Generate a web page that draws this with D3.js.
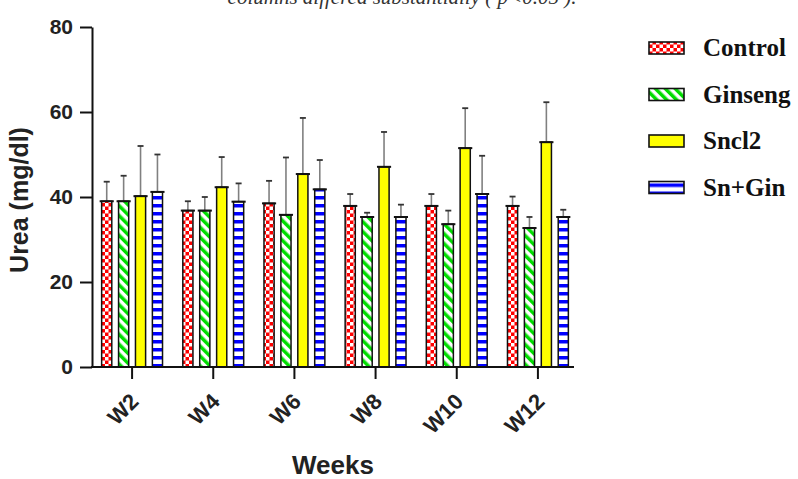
<!DOCTYPE html>
<meta charset="utf-8">
<style>
body { margin: 0; background: #fff; }
svg { font-family: "Liberation Sans", Arial, sans-serif; }
.axis path, .axis line { stroke: #111; stroke-width: 2px; }
.axis text { font-size: 21px; font-weight: bold; fill: #222; }
.legend text { font-family: "Liberation Serif", "Times New Roman", serif; font-weight: bold; font-size: 25px; fill: #111; }
</style>
<body>
<svg width="798" height="479"></svg>
</body>
<script src="https://cdn.jsdelivr.net/npm/d3@7"></script>
<script>

// data
var weeks = ["W2", "W4", "W6", "W8", "W10", "W12"];
var groups = ["Control", "Ginseng", "Sncl2", "Sn+Gin"];

var control = [39.0, 36.8, 38.5, 37.9, 37.9, 37.9];
var ginseng = [39.0, 36.8, 35.8, 35.3, 33.6, 32.7];
var sncl2   = [40.2, 42.3, 45.4, 47.1, 51.5, 52.9];
var snGin   = [41.2, 38.9, 41.8, 35.3, 40.7, 35.3];

// upper error bar ends
var controlErr = [43.6, 39.0, 43.8, 40.7, 40.7, 40.1];
var ginsengErr = [45.0, 40.0, 49.3, 36.3, 36.8, 35.3];
var sncl2Err   = [52.0, 49.4, 58.6, 55.3, 60.9, 62.3];
var snGinErr   = [50.0, 43.2, 48.7, 38.2, 49.7, 37.0];

var yTicks = [0, 20, 40, 60, 80];

var svg = d3.select("svg");

var series = [control, ginseng, sncl2, snGin];
var errs = [controlErr, ginsengErr, sncl2Err, snGinErr];

var rows = [];
weeks.forEach(function(w, i) {
  groups.forEach(function(g, j) {
    rows.push({week: w, group: g, value: series[j][i], err: errs[j][i]});
  });
});

var x0 = d3.scaleBand().domain(weeks).range([91.5, 578.5]).padding(0);
var x1 = d3.scaleBand().domain(groups).range([0, x0.bandwidth()])
    .paddingInner(0.4).paddingOuter(0.6);
var y = d3.scaleLinear().domain([0, 80]).range([367, 27]);

// patterns
var defs = svg.append("defs");

var pc = defs.append("pattern").attr("id", "pControl")
    .attr("patternUnits", "userSpaceOnUse").attr("width", 7).attr("height", 7);
pc.append("rect").attr("width", 7).attr("height", 7).attr("fill", "#ff0000");
pc.append("rect").attr("x", 0).attr("y", 0).attr("width", 3.5).attr("height", 3.5).attr("fill", "#fff");
pc.append("rect").attr("x", 3.5).attr("y", 3.5).attr("width", 3.5).attr("height", 3.5).attr("fill", "#fff");

var pg = defs.append("pattern").attr("id", "pGinseng")
    .attr("patternUnits", "userSpaceOnUse").attr("width", 7).attr("height", 7)
    .attr("patternTransform", "rotate(-45)");
pg.append("rect").attr("width", 7).attr("height", 7).attr("fill", "#fff");
pg.append("rect").attr("width", 3.5).attr("height", 7).attr("fill", "#00dd00");

var ps = defs.append("pattern").attr("id", "pSngin")
    .attr("patternUnits", "userSpaceOnUse").attr("width", 8).attr("height", 8);
ps.append("rect").attr("width", 8).attr("height", 8).attr("fill", "#fff");
ps.append("rect").attr("y", 4).attr("width", 8).attr("height", 3.5).attr("fill", "#0000ff");

var fills = {
  "Control": "url(#pControl)",
  "Ginseng": "url(#pGinseng)",
  "Sncl2": "#ffff00",
  "Sn+Gin": "url(#pSngin)"
};

// top caption, cut off by the page edge as in the source
svg.append("text")
    .attr("x", 402).attr("y", 4)
    .attr("text-anchor", "middle")
    .style("font-family", "'Liberation Serif', serif")
    .style("font-style", "italic")
    .style("font-size", "21px")
    .attr("fill", "#333")
    .text("columns differed substantially ( p<0.05 ).");

// error bars (drawn first, bars cover the lower part)
var eb = svg.append("g").selectAll("g")
  .data(rows).enter().append("g")
    .attr("transform", function(d) {
      return "translate(" + (x0(d.week) + x1(d.group) + x1.bandwidth() / 2) + ",0)";
    });

eb.append("line")
    .attr("y1", function(d) { return y(d.value); })
    .attr("y2", function(d) { return y(d.err); })
    .attr("stroke", "#808080").attr("stroke-width", 1.6);

eb.append("line")
    .attr("x1", -3).attr("x2", 3)
    .attr("y1", function(d) { return y(d.err); })
    .attr("y2", function(d) { return y(d.err); })
    .attr("stroke", "#333").attr("stroke-width", 1.8);

// bars
var bars = svg.append("g").selectAll("g")
  .data(rows).enter().append("g");

bars.append("rect")
    .attr("x", function(d) { return x0(d.week) + x1(d.group); })
    .attr("y", function(d) { return y(d.value); })
    .attr("width", x1.bandwidth())
    .attr("height", function(d) { return y(0) - y(d.value); })
    .attr("fill", function(d) { return fills[d.group]; })
    .attr("stroke", "#111").attr("stroke-width", 1.5);

bars.append("line")
    .attr("x1", function(d) { return x0(d.week) + x1(d.group) - 2; })
    .attr("x2", function(d) { return x0(d.week) + x1(d.group) + x1.bandwidth() + 2; })
    .attr("y1", function(d) { return y(d.value); })
    .attr("y2", function(d) { return y(d.value); })
    .attr("stroke", "#111").attr("stroke-width", 2);

// y axis
svg.append("g").attr("class", "axis")
    .attr("transform", "translate(92,0)")
    .call(d3.axisLeft(y).tickValues(yTicks).tickSize(12).tickPadding(7).tickSizeOuter(0));

// x axis
var xAxis = svg.append("g").attr("class", "axis")
    .attr("transform", "translate(0,367)")
    .call(d3.axisBottom(x0).tickSize(12).tickSizeOuter(0));
xAxis.select(".domain").attr("d", "M91,0H574");
xAxis.selectAll("text")
    .style("font-size", "22px")
    .attr("text-anchor", "end")
    .attr("transform", "translate(-3,25) rotate(-45)")
    .attr("dy", "0.7em")
    .attr("y", 0);

// axis titles
svg.append("text")
    .attr("transform", "translate(28,200) rotate(-90)")
    .attr("text-anchor", "middle")
    .style("font-size", "25px").style("font-weight", "bold")
    .attr("fill", "#222")
    .text("Urea (mg/dl)");

svg.append("text")
    .attr("x", 333).attr("y", 474)
    .attr("text-anchor", "middle")
    .style("font-size", "26px").style("font-weight", "bold")
    .attr("fill", "#222")
    .text("Weeks");

// legend
var legend = svg.append("g").attr("class", "legend")
  .selectAll("g").data(groups).enter().append("g")
    .attr("transform", function(d, i) { return "translate(649," + (48 + i * 46.5) + ")"; });

legend.append("rect")
    .attr("x", 0).attr("y", -6)
    .attr("width", 35).attr("height", 12)
    .attr("fill", function(d) { return fills[d]; })
    .attr("stroke", "#111").attr("stroke-width", 1.6);

legend.append("text")
    .attr("x", 54).attr("y", 8)
    .text(function(d) { return d; });

</script>
